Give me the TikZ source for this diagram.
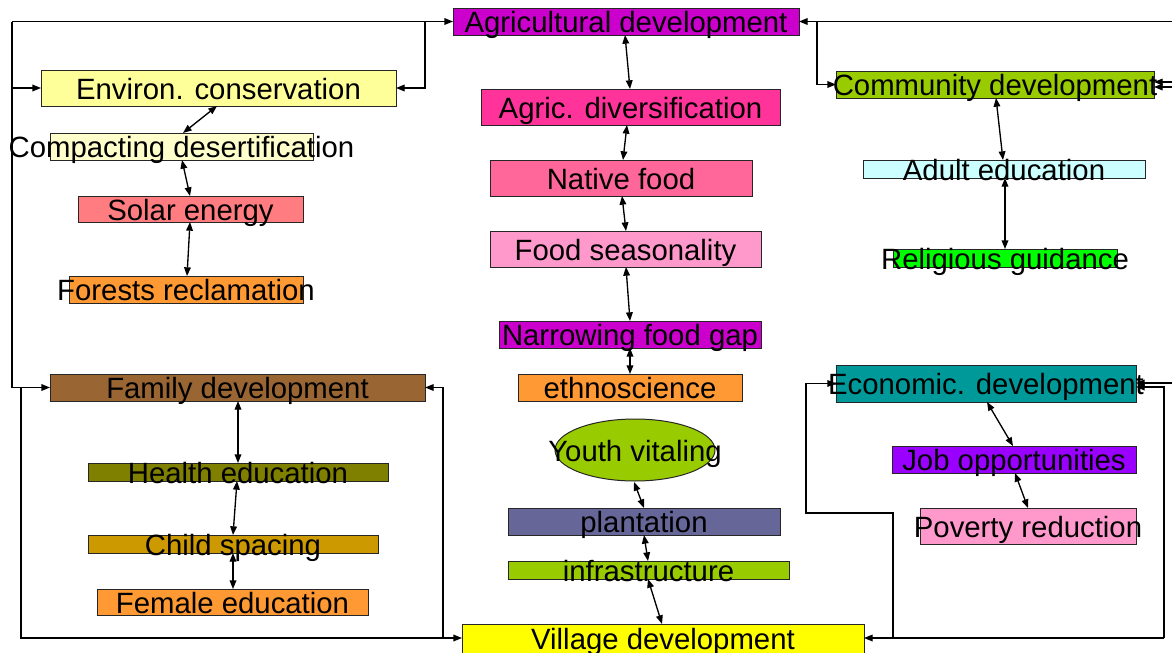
\documentclass[tikz,border=0pt]{standalone}
\usepackage{fontspec}
\setmainfont{Liberation Sans}
\usetikzlibrary{arrows.meta,shapes.geometric,calc}

% box labels may overhang their boxes, so they take no room of their own
\newcommand{\lbl}[2][0pt]{\makebox[0pt][c]{\raisebox{\dimexpr-0.38em+#1\relax}[0pt][0pt]{#2}}}

\definecolor{cMagenta}{HTML}{CC00CC}
\definecolor{cHotPink}{HTML}{FF3399}
\definecolor{cRose}{HTML}{FF6699}
\definecolor{cPink}{HTML}{FF99CC}
\definecolor{cOrange}{HTML}{FF9933}
\definecolor{cLime}{HTML}{99CC00}
\definecolor{cSlate}{HTML}{666699}
\definecolor{cYellow}{HTML}{FFFF00}
\definecolor{cPaleYellow}{HTML}{FFFF99}
\definecolor{cCream}{HTML}{FFFFCC}
\definecolor{cSalmon}{HTML}{FF7C80}
\definecolor{cBrown}{HTML}{996633}
\definecolor{cOlive}{HTML}{808000}
\definecolor{cMustard}{HTML}{CC9900}
\definecolor{cIce}{HTML}{CCFFFF}
\definecolor{cGreen}{HTML}{00FF00}
\definecolor{cTeal}{HTML}{009999}
\definecolor{cViolet}{HTML}{9900FF}

\begin{document}
\begin{tikzpicture}[x=0.75pt,y=-0.75pt,
  box/.style={draw=black!85, line width=0.75pt, inner sep=0pt, outer sep=0pt,
    font=\fontsize{22}{26}\selectfont},
  sz/.style 2 args={minimum width=#1*0.75pt, minimum height=#2*0.75pt},
  link/.style={line width=1pt, black},
  arr/.style={link, -{Triangle[length=6.5pt,width=5pt]}},
  dbl/.style={link, {Triangle[length=6.5pt,width=5pt]}-{Triangle[length=6.5pt,width=5pt]}}]

\useasboundingbox (0,0) rectangle (1172,653);

% central column
\node[box, fill=cMagenta, sz={346}{27}] (agdev) at (626,21.5) {\lbl{Agricultural development}};
\node[box, fill=cHotPink, sz={299}{36}] (agdiv) at (630.5,107) {\lbl{Agric. diversification}};
\node[box, fill=cRose, sz={262}{36}] (native) at (621,178) {\lbl{Native food}};
\node[box, fill=cPink, sz={271}{36}] (season) at (625.5,249) {\lbl{Food seasonality}};
\node[box, fill=cMagenta, sz={262}{27}] (narrow) at (630,334.5) {\lbl{Narrowing food gap}};
\node[box, fill=cOrange, sz={224}{27}] (ethno) at (630,387.5) {\lbl{ethnoscience}};
\node[box, ellipse, fill=cLime, sz={160}{62}] (youth) at (635,450) {\lbl{Youth vitaling}};
\node[box, fill=cSlate, sz={272}{27}] (plant) at (644,521.5) {\lbl{plantation}};
\node[box, fill=cLime, sz={281}{18}] (infra) at (648.5,570) {\lbl{infrastructure}};
\node[box, fill=cYellow, sz={402}{40}] (village) at (663,644) {\lbl[4.5pt]{Village development}};

% left column, upper group
\node[box, fill=cPaleYellow, sz={355}{36}] (environ) at (218.5,88) {\lbl{Environ. conservation}};
\node[box, fill=cCream, sz={263}{27}] (compact) at (181.5,146.5) {\lbl{Compacting desertification}};
\node[box, fill=cSalmon, sz={225}{26}] (solar) at (190.5,209) {\lbl{Solar energy}};
\node[box, fill=cOrange, sz={234}{27}] (forest) at (186,289.5) {\lbl{Forests reclamation}};

% left column, lower group
\node[box, fill=cBrown, sz={375}{27}] (family) at (237.5,387.5) {\lbl{Family development}};
\node[box, fill=cOlive, sz={300}{18}] (health) at (238,472) {\lbl{Health education}};
\node[box, fill=cMustard, sz={290}{18}] (child) at (233,544) {\lbl{Child spacing}};
\node[box, fill=cOrange, sz={271}{26}] (female) at (232.5,602) {\lbl{Female education}};

% right column, upper group
\node[box, fill=cLime, sz={318}{27}] (commun) at (995,84.5) {\lbl{Community development}};
\node[box, fill=cIce, sz={282}{18}] (adult) at (1004,169) {\lbl{Adult education}};
\node[box, fill=cGreen, sz={224}{18}] (relig) at (1005,258) {\lbl{Religious guidance}};

% right column, lower group
\node[box, fill=cTeal, sz={300}{37}] (econ) at (986,383.5) {\lbl{Economic. development}};
\node[box, fill=cViolet, sz={244}{27}] (job) at (1014,459.5) {\lbl{Job opportunities}};
\node[box, fill=cPink, sz={216}{36}] (poverty) at (1028,526) {\lbl{Poverty reduction}};

% two-way links inside each group
\draw[dbl] ($(agdev.south)+(-1,0)$) -- ($(agdiv.north)+(-0.5,0)$);
\draw[dbl] ($(agdiv.south)+(-3.5,0)$) -- ($(native.north)+(2,0)$);
\draw[dbl] ($(native.south)+(1,0)$) -- ($(season.north)+(0.5,0)$);
\draw[dbl] ($(season.south)+(0.5,0)$) -- (narrow.north);
\draw[dbl] (narrow.south) -- (ethno.north);
\draw[dbl] ($(youth.south)+(-1,1)$) -- (plant.north);
\draw[dbl] (plant.south) -- ($(infra.north)+(-0.5,0)$);
\draw[dbl] ($(infra.south)+(-0.5,0)$) -- ($(village.north)+(-1,0)$);

\draw[dbl] ($(environ.south)+(-1.5,0)$) -- ($(compact.north)+(1.5,0)$);
\draw[dbl] ($(compact.south)+(0.5,0)$) -- ($(solar.north)+(-0.5,0)$);
\draw[dbl] ($(solar.south)+(-0.5,0)$) -- ($(forest.north)+(1,0)$);

\draw[dbl] ($(family.south)+(0.5,0)$) -- (health.north);
\draw[dbl] ($(health.south)+(-1,0)$) -- (child.north);
\draw[dbl] (child.south) -- ($(female.north)+(0.5,0)$);

\draw[dbl] ($(commun.south)+(1,0)$) -- ($(adult.north)+(-1,0)$);
\draw[dbl] ($(adult.south)+(1,0)$) -- (relig.north);

\draw[dbl] ($(econ.south)+(1,0)$) -- ($(job.north)+(-1,0)$);
\draw[dbl] ($(job.south)+(1,0)$) -- (poverty.north);

% left feedback loops
\coordinate (lt) at (12,21.5);
\coordinate (lf) at (12,387.5);
\coordinate (lr) at (425,21.5);
\coordinate (lb) at (21,638);
\coordinate (lbr) at (443,638);
\draw[arr] (lt) -- (agdev.west);
\draw[link] (lt) -- (lf);
\draw[arr] (lt |- environ.west) -- (environ.west);
\draw[arr] (lr) |- (environ.east);
\draw[arr] (lf) -- (family.west);
\draw[arr] (lb |- lf) -- (lb) -- (village.west |- lb);
\draw[arr] (lbr) |- (family.east);

% right feedback loops
\coordinate (rt) at (1172,21.5);
\coordinate (rc) at (817,21.5);
\coordinate (re1) at (1172,82);
\coordinate (re2) at (1172,87);
\coordinate (rb) at (1164,638);
\coordinate (rv) at (1164,387);
\coordinate (rx) at (1172,383);
\coordinate (rm) at (893,638);
\coordinate (rk) at (806,513);
\draw[arr] (rt) -- (agdev.east);
\draw[arr] (rc) |- (commun.west);
\draw[arr] (re1) -- (commun.east |- re1);
\draw[arr] (re2) -- (commun.east |- re2);
\draw[arr] (rb) -- (village.east |- rb);
\draw[arr] (rb) -- (rv) -- (econ.east |- rv);
\draw[arr] (rx) -- (econ.east |- rx);
\draw[arr] (rm) -- (rm |- rk) -- (rk) |- (econ.west);

\end{tikzpicture}
\end{document}
